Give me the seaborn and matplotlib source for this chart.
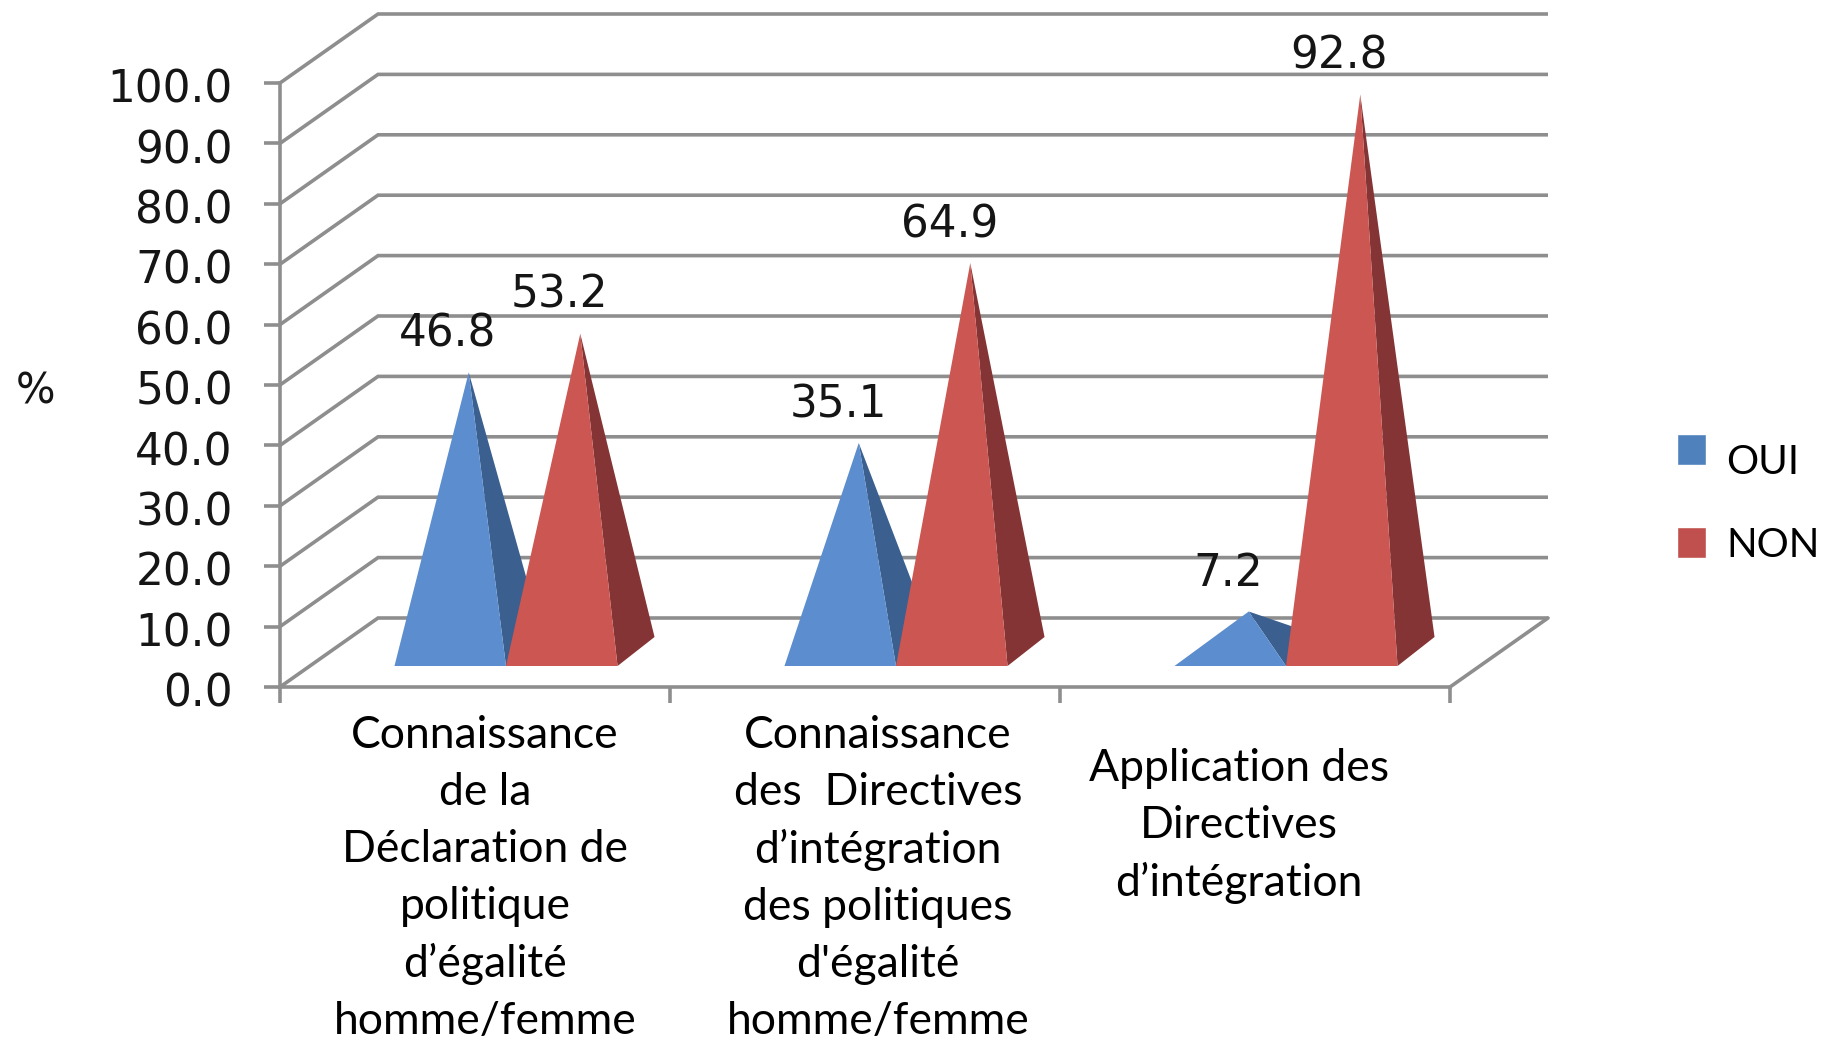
import pandas as pd
import matplotlib
matplotlib.use('Agg')
import matplotlib.pyplot as plt
from matplotlib.transforms import ScaledTranslation
import seaborn as sns

# values
categories = [
    "Connaissance\nde la\nDéclaration de\npolitique\nd’égalité\nhomme/femme",
    "Connaissance\ndes  Directives\nd’intégration\ndes politiques\nd'égalité\nhomme/femme",
    "Application des\nDirectives\nd’intégration",
]
oui = [46.8, 35.1, 7.2]
non = [53.2, 64.9, 92.8]
y_ticks = [0, 10, 20, 30, 40, 50, 60, 70, 80, 90, 100]

df = pd.DataFrame({
    'categorie': categories * 2,
    'reponse': ['OUI'] * 3 + ['NON'] * 3,
    'valeur': oui + non,
})

sns.set_theme(style='white')
plt.rcParams['font.family'] = ['DejaVu Sans']

W, H = 1840, 1041
GRAY = '#8e8e8e'
LW = 2.6

fig = plt.figure(figsize=(W / 100, H / 100), dpi=100, facecolor='white')
ax = fig.add_axes([280 / W, (H - 687) / H, 1170 / W, 604 / H])

sns.barplot(data=df, x='categorie', y='valeur', hue='reponse', ax=ax, width=0.572, gap=0,
            palette={'OUI': '#4f81bd', 'NON': '#c0504d'}, saturation=1)
ax.set_xlim(-0.5, 2.5)
ax.set_ylim(0, 100)
ax.set_xlabel('')
ax.set_ylabel('')

# pixels to data units
px = 3 / 1170
py = 100 / 604

# back wall and floor depth
dx, dy = 98 * px, 69 * py
for v in y_ticks:
    ax.plot([-0.5, -0.5 + dx, 2.5 + dx], [v, v + dy, v + dy], color=GRAY, lw=LW, zorder=1,
            clip_on=False, solid_capstyle='butt', solid_joinstyle='miter')
ax.plot([2.5, 2.5 + dx], [0, dy], color=GRAY, lw=LW, zorder=1, clip_on=False)

# turn each bar into a pyramid
shift_x, shift_y = 31 * px, 21 * py
base_dx, base_dy = 37 * px, 29 * py
apex_base = 32 * py
faces = {0: ('#5b8dcf', '#3b5f8e'), 1: ('#cc5652', '#843434')}
z = 3
for n in range(3):
    for s, cont in enumerate(ax.containers):
        bar = cont[n]
        bar.set_visible(False)
        left = bar.get_x() + shift_x
        right = left + bar.get_width()
        mid = (left + right) / 2 + base_dx / 2
        top = apex_base + bar.get_height()
        ax.fill([right, right + base_dx, mid], [shift_y, shift_y + base_dy, top],
                color=faces[s][1], lw=0, zorder=z, clip_on=False)
        ax.fill([left, right, mid], [shift_y, shift_y, top],
                color=faces[s][0], lw=0, zorder=z + 0.5, clip_on=False)
        z += 1
        ax.annotate(f'{bar.get_height():.1f}', (mid, top), xytext=(-15, 27.5),
                    textcoords='offset points', ha='center', va='center',
                    fontsize=31.5, color='#151515', zorder=20, annotation_clip=False)

# axes
sns.despine(ax=ax)
for side in ['left', 'bottom']:
    ax.spines[side].set_color(GRAY)
    ax.spines[side].set_linewidth(LW)
    ax.spines[side].set_zorder(2)
ax.set_yticks(y_ticks)
ax.set_yticklabels([f'{v:.1f}' for v in y_ticks], fontsize=31.5, color='#151515')
ax.set_xticks([-0.5, 0.5, 1.5, 2.5])
ax.set_xticklabels([])
ax.tick_params(axis='both', length=11.5, width=LW, color=GRAY, left=True, bottom=True)
ax.tick_params(axis='y', pad=22.5)
for lab in ax.get_yticklabels():
    lab.set_transform(lab.get_transform() + ScaledTranslation(0, -2 / 72, fig.dpi_scale_trans))

ax.annotate('%', (-0.5, 49), xytext=(-176, 0), textcoords='offset points',
            ha='center', va='center', fontsize=30, color='#151515', annotation_clip=False)

# category labels sit a bit off the tick centres
label_dx = [10, 13, -16]
label_dy = [-28, -28, -61]
for i, lab in enumerate(categories):
    ax.annotate(lab, (i, 0), xytext=(label_dx[i] * 0.72, label_dy[i] * 0.72),
                textcoords='offset points', ha='center', va='top', fontsize=32,
                family='Lato', color='black', linespacing=1.48, annotation_clip=False)

# legend
sns.move_legend(ax, 'upper left', bbox_to_anchor=(1649 / W, 1 - 405 / H),
                bbox_transform=fig.transFigure, frameon=False, title=None,
                handlelength=0.72, handleheight=0.8, handletextpad=0.5, labelspacing=1.4,
                borderpad=0.2, prop={'family': 'Lato', 'size': 29})
for t, off in zip(ax.get_legend().get_texts(), [-10.5, 0]):
    t.set_color('black')
    t.set_y(off)

fig.savefig('out.png', dpi=100)
